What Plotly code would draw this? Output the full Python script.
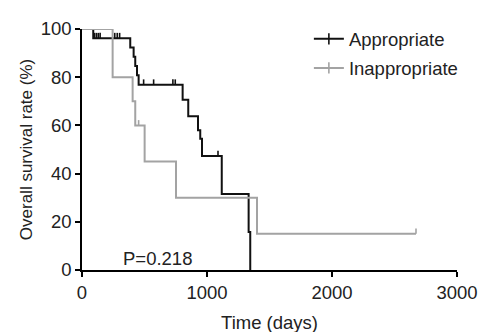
import plotly.graph_objects as go

# ---- data ----
# Appropriate (black): event times (days) and survival (%) after each event
appr_times = [0, 90, 386, 413, 426, 440, 453, 805, 850, 928, 946, 960, 1118, 1333, 1346]
appr_surv = [100, 96.2, 92.3, 88.5, 84.6, 80.8, 76.9, 70.6, 63.8, 58.0, 54.5, 47.3, 31.5, 15.8, 0]
appr_end = 1346
appr_censor = [66, 100, 115, 130, 145, 262, 282, 301, 493, 573, 727, 746, 1088]

# Inappropriate (gray)
inap_times = [0, 245, 405, 426, 501, 752, 1400]
inap_surv = [100, 80, 70, 60, 45, 30, 15]
inap_end = 2672
inap_censor = [181, 453, 2672]

x_ticks = [0, 1000, 2000, 3000]
y_ticks = [0, 20, 40, 60, 80, 100]
p_text = "P=0.218"

BLACK = "#111111"
GRAY = "#a3a3a3"
TXT = "#222222"
FONT = "Liberation Sans, Arial, sans-serif"
FS = 18.5


def km_path(times, surv, end):
    xs = list(times)
    ys = list(surv)
    if end > xs[-1]:
        xs.append(end)
        ys.append(ys[-1])
    return xs, ys


def surv_at(times, surv, t):
    s = surv[0]
    for ti, si in zip(times, surv):
        if ti <= t:
            s = si
    return s


fig = go.Figure()

for name, times, surv, end, cens, color, grp in [
    ("Appropriate", appr_times, appr_surv, appr_end, appr_censor, BLACK, "a"),
    ("Inappropriate", inap_times, inap_surv, inap_end, inap_censor, GRAY, "b"),
]:
    xs, ys = km_path(times, surv, end)
    fig.add_trace(go.Scatter(
        x=xs, y=ys, mode="lines", line=dict(color=color, width=2, shape="hv"),
        showlegend=False, legendgroup=grp, cliponaxis=False, hoverinfo="skip"))
    cy = [surv_at(times, surv, t) for t in cens]
    fig.add_trace(go.Scatter(
        x=cens, y=cy, mode="markers", marker=dict(size=1, color=color, opacity=0),
        error_y=dict(type="constant", value=2.2, symmetric=False, valueminus=0,
                     width=0, thickness=1.6, color=color),
        showlegend=False, legendgroup=grp, cliponaxis=False))
    # legend entry
    fig.add_trace(go.Scatter(
        x=[None], y=[None], mode="lines+markers", name=name, legendgroup=grp,
        line=dict(color=color, width=2),
        marker=dict(symbol="line-ns", size=8, line=dict(color=color, width=1.6))))

fig.add_annotation(x=606, y=4.9, text=p_text, showarrow=False,
                   font=dict(family=FONT, size=FS, color=TXT),
                   xanchor="center", yanchor="middle")

axis_common = dict(
    showline=True, linecolor="black", linewidth=1.5,
    ticks="outside", ticklen=5, tickwidth=1.5, tickcolor="black",
    showgrid=False, zeroline=False, automargin=False,
    tickfont=dict(family=FONT, size=FS, color=TXT),
)

fig.update_layout(
    width=488, height=332,
    margin=dict(l=74, r=39, t=13, b=70),
    plot_bgcolor="white", paper_bgcolor="white",
    font=dict(family=FONT, size=FS, color=TXT),
    xaxis=dict(range=[0, 3000], tickvals=x_ticks,
               title=dict(text="Time (days)", standoff=14,
                          font=dict(family=FONT, size=FS, color=TXT)),
               **axis_common),
    yaxis=dict(range=[0, 100], tickvals=y_ticks,
               title=dict(text="Overall survival rate (%)", standoff=4,
                          font=dict(family=FONT, size=17, color=TXT)),
               **axis_common),
    legend=dict(x=0.605, y=1.036, xanchor="left", yanchor="top",
                bgcolor="rgba(0,0,0,0)", tracegroupgap=2,
                font=dict(family=FONT, size=FS, color=TXT)),
    showlegend=True,
)

fig.write_html("out.html")
